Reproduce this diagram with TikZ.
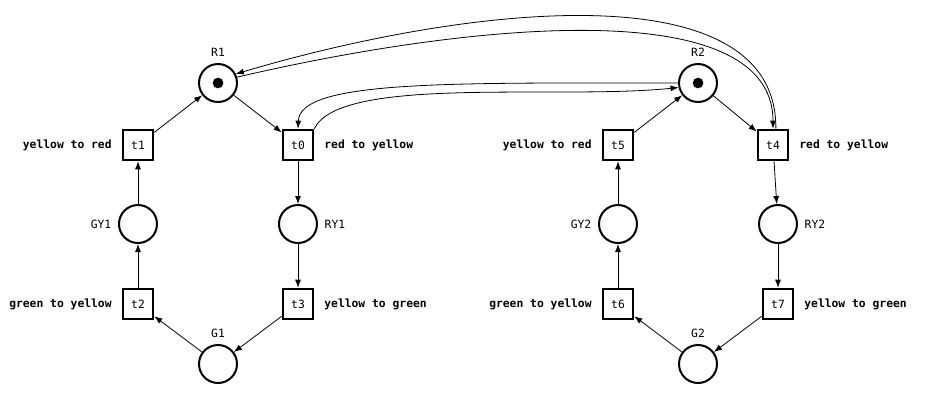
\documentclass[tikz,border=0pt]{standalone}
\usepackage{fontspec}
\setmonofont{DejaVu Sans Mono}
\usetikzlibrary{arrows.meta}
\begin{document}
\begin{tikzpicture}[x=0.75pt,y=-0.75pt,
  font=\ttfamily\fontsize{8.5}{10}\selectfont,
  place/.style={circle,draw,line width=1.5pt,minimum size=28.5pt,inner sep=0pt},
  trans/.style={rectangle,draw,line width=1.5pt,minimum size=23pt,inner sep=0pt},
  arc/.style={-{Latex[length=6pt,width=4.5pt]},line width=0.6pt},
  tlab/.style={font=\ttfamily\bfseries\fontsize{8.5}{10}\selectfont,label distance=4pt},
  plab/.style={label distance=1.5pt}]
\useasboundingbox (0,0) rectangle (929,404);
% first crossing
\node[place,label={[plab]above:R1}] (R1) at (218,83) {};
\node[trans,label={[tlab]left:yellow to red}] (t1) at (138,145) {t1};
\node[trans,label={[tlab]right:red to yellow}] (t0) at (298,145) {t0};
\node[place,label={[plab]left:GY1}] (GY1) at (138,224) {};
\node[place,label={[plab]right:RY1}] (RY1) at (298,224) {};
\node[trans,label={[tlab]left:green to yellow}] (t2) at (138,304) {t2};
\node[trans,label={[tlab]right:yellow to green}] (t3) at (298,304) {t3};
\node[place,label={[plab]above:G1}] (G1) at (218,364) {};
% second crossing
\node[place,label={[plab]above:R2}] (R2) at (698,83) {};
\node[trans,label={[tlab]left:yellow to red}] (t5) at (618,145) {t5};
\node[trans,label={[tlab]right:red to yellow}] (t4) at (773,145) {t4};
\node[place,label={[plab]left:GY2}] (GY2) at (618,224) {};
\node[place,label={[plab]right:RY2}] (RY2) at (778,224) {};
\node[trans,label={[tlab]left:green to yellow}] (t6) at (618,304) {t6};
\node[trans,label={[tlab]right:yellow to green}] (t7) at (778,304) {t7};
\node[place,label={[plab]above:G2}] (G2) at (698,364) {};
% tokens
\fill (R1) circle[radius=4pt];
\fill (R2) circle[radius=4pt];
\foreach \a/\b in {R1/t0,t1/R1,t0/RY1,RY1/t3,t3/G1,G1/t2,t2/GY1,GY1/t1,
                   R2/t4,t5/R2,t4/RY2,RY2/t7,t7/G2,G2/t6,t6/GY2,GY2/t5}
  \draw[arc] (\a) -- (\b);
% shared resources
\draw[arc] (R1.17) .. controls (460,25) and (773,-10) .. (t4.north);
\draw[arc] (t4.80) .. controls (777,-30) and (468,5) .. (R1.27);
\draw[arc] (R2) .. controls (450,83) and (300,80) .. (t0.north);
\draw[arc] (t0.north east) .. controls (340,75) and (560,100) .. (R2.193);
\end{tikzpicture}
\end{document}
